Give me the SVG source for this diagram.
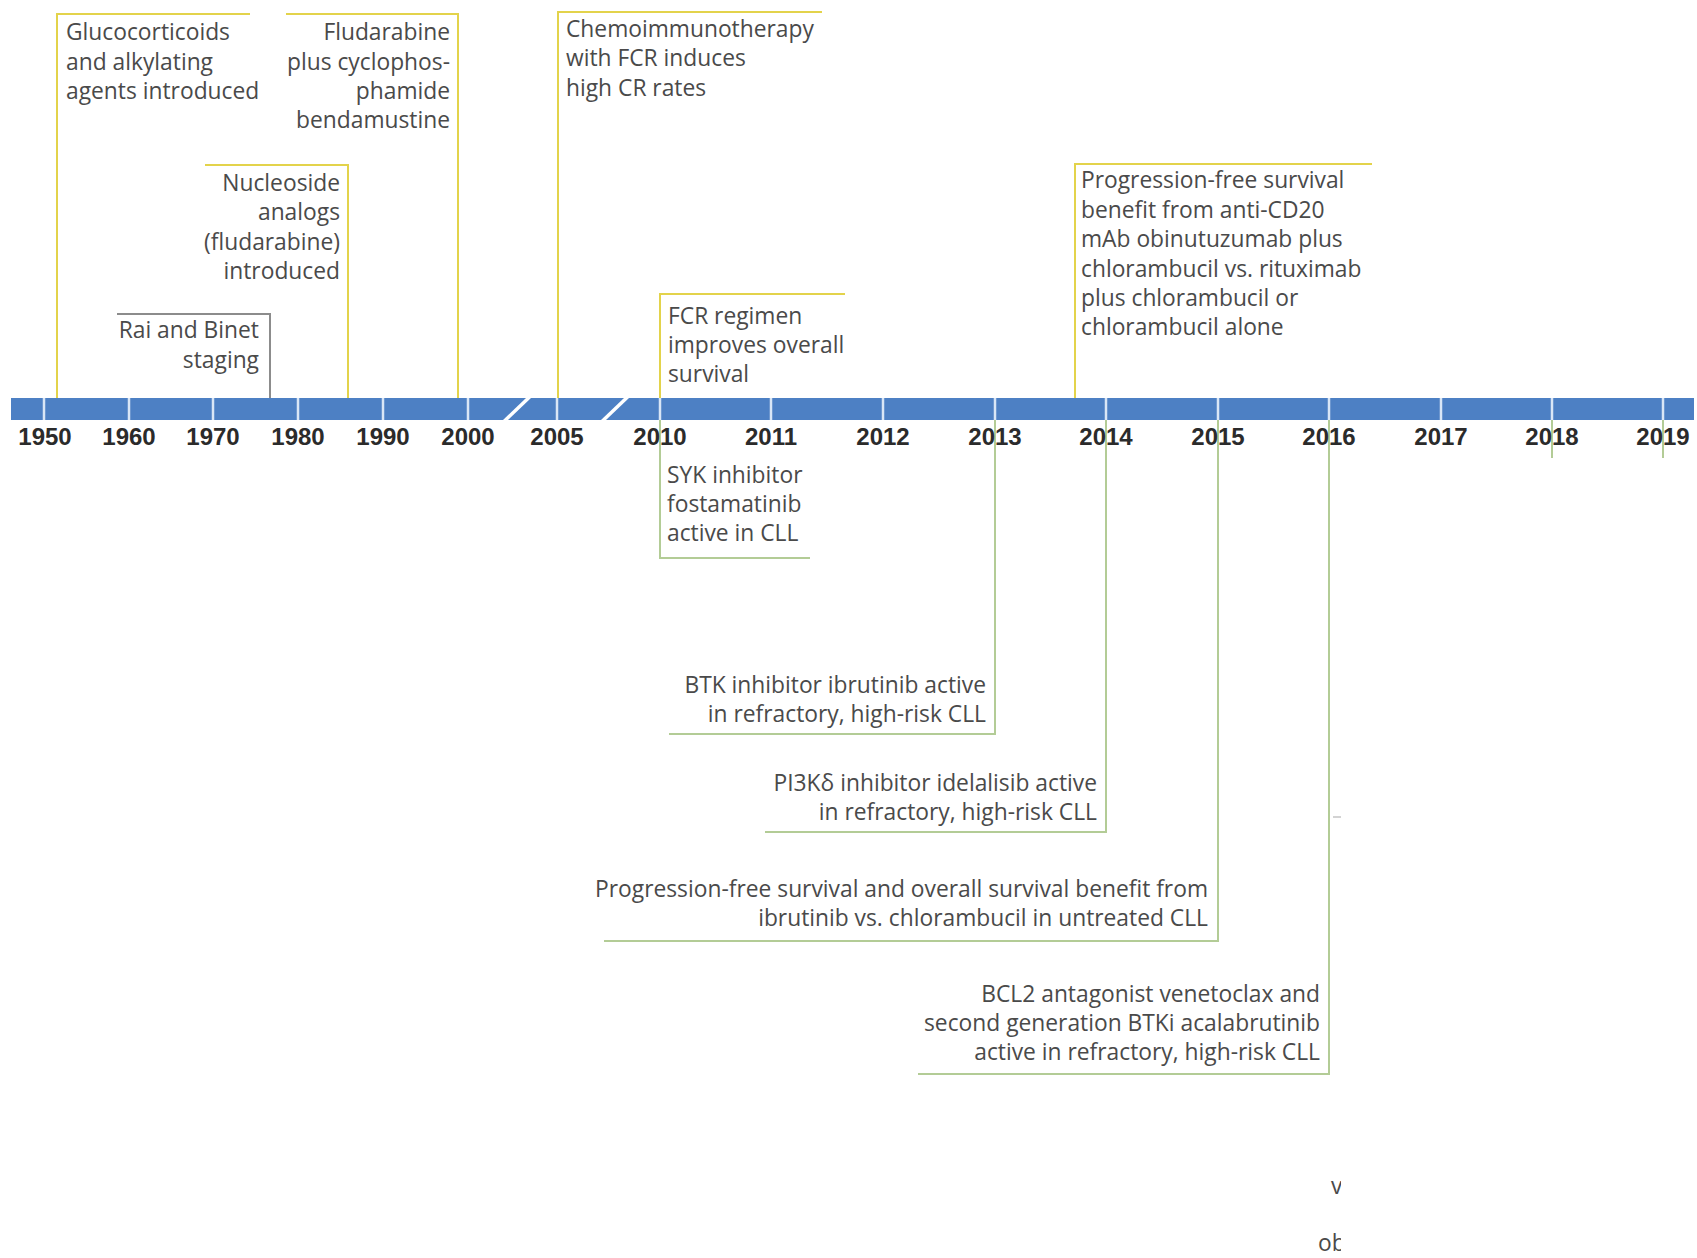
<svg xmlns="http://www.w3.org/2000/svg" width="1697" height="1258" viewBox="0 0 1697 1258">
<defs>
<style>
.lbl { font-family: "Open Sans", "Liberation Sans", sans-serif; font-size: 22.8px; fill: #4a4a4a; }
.end { text-anchor: end; }
.yr { font-family: "Liberation Sans", Arial, sans-serif; font-weight: bold; font-size: 24px; fill: #2b2b2b; text-anchor: middle; }
.cy { stroke: #e3d34b; stroke-width: 2; fill: none; }
.cg { stroke: #b3cc96; stroke-width: 2; fill: none; }
.cgr { stroke: #8c8c8c; stroke-width: 2; fill: none; }
.sep { stroke: #d9e6f6; stroke-width: 2.5; }
</style>
<clipPath id="clipR"><rect x="0" y="0" width="1341" height="1258"/></clipPath>
</defs>
<rect width="1697" height="1258" fill="#ffffff"/>

<g id="timeline">
<rect x="11" y="398" width="1683" height="22" fill="#4d80c4"/>
<g>
<line class="sep" x1="44" y1="398" x2="44" y2="420"/>
<line class="sep" x1="129" y1="398" x2="129" y2="420"/>
<line class="sep" x1="213" y1="398" x2="213" y2="420"/>
<line class="sep" x1="298" y1="398" x2="298" y2="420"/>
<line class="sep" x1="383" y1="398" x2="383" y2="420"/>
<line class="sep" x1="468" y1="398" x2="468" y2="420"/>
<line class="sep" x1="557" y1="398" x2="557" y2="420"/>
<line class="sep" x1="660" y1="398" x2="660" y2="420"/>
<line class="sep" x1="771" y1="398" x2="771" y2="420"/>
<line class="sep" x1="883" y1="398" x2="883" y2="420"/>
<line class="sep" x1="995" y1="398" x2="995" y2="420"/>
<line class="sep" x1="1106" y1="398" x2="1106" y2="420"/>
<line class="sep" x1="1218" y1="398" x2="1218" y2="420"/>
<line class="sep" x1="1329" y1="398" x2="1329" y2="420"/>
<line class="sep" x1="1441" y1="398" x2="1441" y2="420"/>
<line class="sep" x1="1552" y1="398" x2="1552" y2="420"/>
<line class="sep" x1="1663" y1="398" x2="1663" y2="420"/>
</g>
<polygon points="503,420 508,420 531,398 526,398" fill="#ffffff"/>
<polygon points="601,420 606,420 629,398 624,398" fill="#ffffff"/>
</g>

<g id="connectors">
<path class="cy" d="M57,398 V14 H250"/>
<path class="cy" d="M458,398 V14 H286"/>
<path class="cy" d="M348,398 V165 H205"/>
<path class="cgr" d="M270,398 V314 H117"/>
<path class="cy" d="M558,398 V12 H822"/>
<path class="cy" d="M660,398 V294 H845"/>
<path class="cy" d="M1075,398 V164 H1372"/>
<path class="cg" d="M660,420 V558 H810"/>
<path class="cg" d="M995,420 V734 H669"/>
<path class="cg" d="M1106,420 V832 H765"/>
<path class="cg" d="M1218,420 V941 H604"/>
<path class="cg" d="M1329,420 V1074 H918"/>
<path class="cg" d="M1552,420 V458"/>
<path class="cg" d="M1663,420 V458"/>
<path d="M1333,817 H1341" stroke="#c4c4c4" stroke-width="1.5"/>
</g>

<g id="years">
<text class="yr" x="45" y="445">1950</text>
<text class="yr" x="129" y="445">1960</text>
<text class="yr" x="213" y="445">1970</text>
<text class="yr" x="298" y="445">1980</text>
<text class="yr" x="383" y="445">1990</text>
<text class="yr" x="468" y="445">2000</text>
<text class="yr" x="557" y="445">2005</text>
<text class="yr" x="660" y="445">2010</text>
<text class="yr" x="771" y="445">2011</text>
<text class="yr" x="883" y="445">2012</text>
<text class="yr" x="995" y="445">2013</text>
<text class="yr" x="1106" y="445">2014</text>
<text class="yr" x="1218" y="445">2015</text>
<text class="yr" x="1329" y="445">2016</text>
<text class="yr" x="1441" y="445">2017</text>
<text class="yr" x="1552" y="445">2018</text>
<text class="yr" x="1663" y="445">2019</text>
</g>

<g id="n-glucocorticoids">
<text class="lbl" x="66" y="40">Glucocorticoids</text>
<text class="lbl" x="66" y="70">and alkylating</text>
<text class="lbl" x="66" y="99">agents introduced</text>
</g>
<g id="n-fludarabine-cyclophosphamide">
<text class="lbl end" x="450" y="40">Fludarabine</text>
<text class="lbl end" x="450" y="70">plus cyclophos-</text>
<text class="lbl end" x="450" y="99">phamide</text>
<text class="lbl end" x="450" y="128">bendamustine</text>
</g>
<g id="n-nucleoside">
<text class="lbl end" x="340" y="191">Nucleoside</text>
<text class="lbl end" x="340" y="220">analogs</text>
<text class="lbl end" x="340" y="250">(fludarabine)</text>
<text class="lbl end" x="340" y="279">introduced</text>
</g>
<g id="n-rai-binet">
<text class="lbl end" x="259" y="338">Rai and Binet</text>
<text class="lbl end" x="259" y="368">staging</text>
</g>
<g id="n-chemoimmunotherapy">
<text class="lbl" x="566" y="37">Chemoimmunotherapy</text>
<text class="lbl" x="566" y="66">with FCR induces</text>
<text class="lbl" x="566" y="96">high CR rates</text>
</g>
<g id="n-fcr-survival">
<text class="lbl" x="668" y="324">FCR regimen</text>
<text class="lbl" x="668" y="353">improves overall</text>
<text class="lbl" x="668" y="382">survival</text>
</g>
<g id="n-obinutuzumab">
<text class="lbl" x="1081" y="188">Progression-free survival</text>
<text class="lbl" x="1081" y="218">benefit from anti-CD20</text>
<text class="lbl" x="1081" y="247">mAb obinutuzumab plus</text>
<text class="lbl" x="1081" y="277">chlorambucil vs. rituximab</text>
<text class="lbl" x="1081" y="306">plus chlorambucil or</text>
<text class="lbl" x="1081" y="335">chlorambucil alone</text>
</g>
<g id="n-syk">
<text class="lbl" x="667" y="483">SYK inhibitor</text>
<text class="lbl" x="667" y="512">fostamatinib</text>
<text class="lbl" x="667" y="541">active in CLL</text>
</g>
<g id="n-btk">
<text class="lbl end" x="986" y="693">BTK inhibitor ibrutinib active</text>
<text class="lbl end" x="986" y="722">in refractory, high-risk CLL</text>
</g>
<g id="n-pi3k">
<text class="lbl end" x="1097" y="791">PI3Kδ inhibitor idelalisib active</text>
<text class="lbl end" x="1097" y="820">in refractory, high-risk CLL</text>
</g>
<g id="n-ibrutinib-untreated">
<text class="lbl end" x="1208" y="897">Progression-free survival and overall survival benefit from</text>
<text class="lbl end" x="1208" y="926">ibrutinib vs. chlorambucil in untreated CLL</text>
</g>
<g id="n-bcl2">
<text class="lbl end" x="1320" y="1002">BCL2 antagonist venetoclax and</text>
<text class="lbl end" x="1320" y="1031">second generation BTKi acalabrutinib</text>
<text class="lbl end" x="1320" y="1060">active in refractory, high-risk CLL</text>
</g>
<g id="n-clipped" clip-path="url(#clipR)">
<text class="lbl" x="1331" y="1194">v</text>
<text class="lbl" x="1318" y="1251">ob</text>
</g>
</svg>
